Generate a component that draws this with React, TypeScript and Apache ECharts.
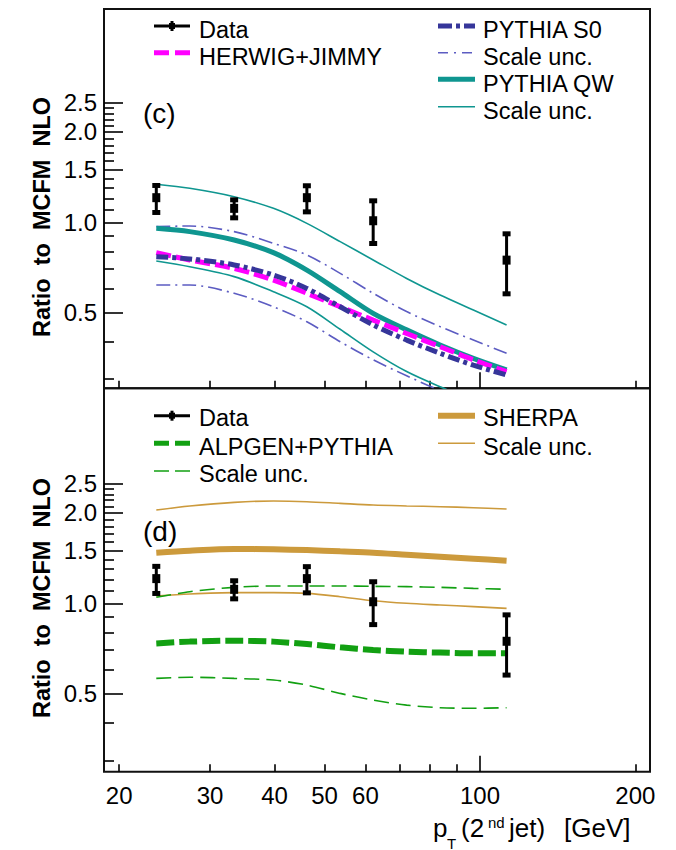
import React, { useEffect, useRef } from 'react';
import * as echarts from 'echarts';

const FONT = "'Liberation Sans', Arial, Helvetica, sans-serif";

// ---- data ----
const ptBins = [23.6, 33.4, 46.2, 62.1, 112.6];
const dataRatio = [1.208, 1.113, 1.208, 1.012, 0.748];
const dataLow = [1.066, 1.023, 1.071, 0.84, 0.571];
const dataHigh = [1.342, 1.202, 1.339, 1.193, 0.926];

const ptCurve = [23.6, 27.4, 33.4, 39.8, 46.2, 53.6, 62.1, 72.1, 83.7, 97.1, 112.6];

// panel (c)
const qwUpper = [1.339, 1.298, 1.217, 1.113, 0.992, 0.862, 0.749, 0.65, 0.572, 0.51, 0.455];
const qwCentral = [0.955, 0.931, 0.873, 0.792, 0.693, 0.587, 0.497, 0.438, 0.39, 0.352, 0.322];
const qwLower = [0.743, 0.711, 0.659, 0.587, 0.523, 0.44, 0.37, 0.318, 0.283, 0.255, null];
const s0Upper = [0.967, 0.972, 0.931, 0.851, 0.778, 0.676, 0.58, 0.504, 0.449, 0.405, 0.366];
const s0Central = [0.768, 0.755, 0.721, 0.667, 0.602, 0.523, 0.455, 0.405, 0.366, 0.334, 0.31];
const s0Lower = [0.618, 0.618, 0.58, 0.523, 0.466, 0.4, 0.348, 0.308, 0.275, 0.25, null];
const herwig = [0.792, 0.749, 0.702, 0.642, 0.58, 0.523, 0.472, 0.426, 0.385, 0.348, 0.318];

// panel (d)
const sherpaUpper = [2.042, 2.106, 2.165, 2.187, 2.176, 2.148, 2.121, 2.106, 2.094, 2.078, 2.057];
const sherpaCentral = [1.473, 1.496, 1.515, 1.511, 1.503, 1.488, 1.473, 1.45, 1.428, 1.407, 1.386];
const sherpaLower = [1.057, 1.074, 1.085, 1.085, 1.079, 1.052, 1.02, 1.0, 0.987, 0.975, 0.962];
const alpgenUpper = [1.047, 1.093, 1.13, 1.142, 1.142, 1.142, 1.139, 1.136, 1.13, 1.121, 1.113];
const alpgenCentral = [0.736, 0.746, 0.751, 0.746, 0.732, 0.714, 0.7, 0.691, 0.686, 0.682, 0.682];
const alpgenLower = [0.563, 0.568, 0.563, 0.556, 0.535, 0.502, 0.477, 0.459, 0.45, 0.448, 0.45];

// ticks
const yMajorTicks = [0.5, 1.0, 1.5, 2.0, 2.5];
const yMinorTicks = [0.3, 0.4, 0.6, 0.7, 0.8, 0.9, 1.1, 1.2, 1.3, 1.4, 1.6, 1.7, 1.8, 1.9, 2.1, 2.2, 2.3, 2.4];
const xLabelTicks = [20, 30, 40, 50, 60, 100, 200];
const xMajorTicks = [100];
const xMinorTicks = [20, 30, 40, 50, 60, 70, 80, 90, 200];

const X_MIN = 18.69;
const X_MAX = 213.5;
const Y_RANGE = [
  [0.2797, 5.14],
  [0.2758, 5.18],
];

const C_TEAL = '#0f9690';
const C_S0 = '#36369a';
const C_S0_THIN = '#5c5cc2';
const C_MAG = '#ff00ff';
const C_SHERPA = '#cc9a3c';
const C_GREEN = '#12a012';

function zip(xs: number[], ys: (number | null)[]) {
  const out: number[][] = [];
  xs.forEach((x, i) => {
    const y = ys[i];
    if (y != null) out.push([x, y]);
  });
  return out;
}

export default function App() {
  const ref = useRef<HTMLDivElement>(null);
  useEffect(() => {
    const chart = echarts.init(ref.current!, null, { renderer: 'svg' });

    const grids = [
      { left: 104, top: 9, width: 546, height: 379.3 },
      { left: 104, top: 388.3, width: 546, height: 383.4 },
    ].map((g) => ({ ...g, show: true, borderColor: '#111', borderWidth: 2, backgroundColor: 'transparent' }));

    const tickStyle = { color: '#000', width: 1.6 };

    const xAxes: any[] = [];
    const yAxes: any[] = [];
    [0, 1].forEach((gi) => {
      xAxes.push({
        type: 'log', gridIndex: gi, min: X_MIN, max: X_MAX, position: 'bottom',
        axisLine: { show: false }, splitLine: { show: false }, minorTick: { show: false },
        axisTick: { show: true, inside: true, length: 16, lineStyle: tickStyle, customValues: xMajorTicks },
        axisLabel: gi === 1
          ? { show: true, customValues: xLabelTicks, margin: 12, fontSize: 24, color: '#000', fontFamily: FONT,
              formatter: (v: number) => String(Math.round(v)) }
          : { show: false },
      });
      xAxes.push({
        type: 'log', gridIndex: gi, min: X_MIN, max: X_MAX, position: 'bottom',
        axisLine: { show: false }, splitLine: { show: false }, minorTick: { show: false },
        axisTick: { show: true, inside: true, length: 7.5, lineStyle: tickStyle, customValues: xMinorTicks },
        axisLabel: { show: false },
      });
      yAxes.push({
        type: 'log', gridIndex: gi, min: Y_RANGE[gi][0], max: Y_RANGE[gi][1], position: 'left',
        axisLine: { show: false }, splitLine: { show: false }, minorTick: { show: false },
        axisTick: { show: true, inside: true, length: 19, lineStyle: tickStyle, customValues: yMajorTicks },
        axisLabel: { show: true, customValues: yMajorTicks, margin: 7, fontSize: 24, color: '#000', fontFamily: FONT,
          formatter: (v: number) => v.toFixed(1) },
      });
      yAxes.push({
        type: 'log', gridIndex: gi, min: Y_RANGE[gi][0], max: Y_RANGE[gi][1], position: 'left',
        axisLine: { show: false }, splitLine: { show: false }, minorTick: { show: false },
        axisTick: { show: true, inside: true, length: 10, lineStyle: tickStyle, customValues: yMinorTicks },
        axisLabel: { show: false },
      });
    });

    const curve = (gi: number, ys: (number | null)[], color: string, width: number, dash: any, z = 2) => ({
      type: 'line', xAxisIndex: gi * 2, yAxisIndex: gi * 2, data: zip(ptCurve, ys),
      smooth: 0.3, showSymbol: false, symbol: 'none', silent: true, clip: true, z,
      lineStyle: { color, width, type: dash, cap: 'butt' },
    });

    const errorSeries = (gi: number) => ({
      type: 'custom', xAxisIndex: gi * 2, yAxisIndex: gi * 2, z: 10, silent: true,
      encode: { x: 0, y: 1 },
      data: ptBins.map((x, i) => [x, dataRatio[i], dataLow[i], dataHigh[i]]),
      renderItem: (_p: any, api: any) => {
        const x = api.value(0);
        const c = api.coord([x, api.value(1)]);
        const l = api.coord([x, api.value(2)]);
        const h = api.coord([x, api.value(3)]);
        const st = { fill: '#000' };
        return {
          type: 'group',
          children: [
            { type: 'line', shape: { x1: c[0], y1: l[1], x2: c[0], y2: h[1] }, style: { stroke: '#000', lineWidth: 3 } },
            { type: 'rect', shape: { x: c[0] - 4, y: h[1] - 1, width: 8, height: 5 }, style: st },
            { type: 'rect', shape: { x: c[0] - 4, y: l[1] - 4, width: 8, height: 5 }, style: st },
            { type: 'rect', shape: { x: c[0] - 4, y: c[1] - 4.5, width: 8, height: 9 }, style: st },
          ],
        };
      },
    });

    const series: any[] = [
      curve(0, qwUpper, C_TEAL, 1.6, 'solid'),
      curve(0, qwLower, C_TEAL, 1.6, 'solid'),
      curve(0, s0Upper, C_S0_THIN, 1.6, [14, 5, 2, 5]),
      curve(0, s0Lower, C_S0_THIN, 1.6, [14, 5, 2, 5]),
      curve(0, qwCentral, C_TEAL, 5, 'solid', 3),
      curve(0, herwig, C_MAG, 5, [15, 5], 4),
      curve(0, s0Central, C_S0, 5, [12, 4, 4, 4], 5),
      errorSeries(0),
      curve(1, sherpaUpper, C_SHERPA, 1.6, 'solid'),
      curve(1, sherpaLower, C_SHERPA, 1.6, 'solid'),
      curve(1, alpgenUpper, C_GREEN, 1.6, [15, 7]),
      curve(1, alpgenLower, C_GREEN, 1.6, [15, 7]),
      curve(1, sherpaCentral, C_SHERPA, 6, 'solid', 3),
      curve(1, alpgenCentral, C_GREEN, 6, [18, 5], 4),
      errorSeries(1),
    ];

    const txt = (text: string, x: number, y: number, size = 23.5, extra: any = {}) => ({
      type: 'text', x, y, silent: true, ...extra,
      style: {
        text, fill: '#000', fontSize: size, fontFamily: FONT,
        align: 'left', verticalAlign: 'middle', textAlign: 'left', textVerticalAlign: 'middle',
        ...(extra.style || {}),
      },
    });
    const mark = (x1: number, x2: number, y: number, color: string, width: number, dash?: number[]) => ({
      type: 'line', silent: true,
      shape: { x1, y1: y, x2, y2: y },
      style: { stroke: color, lineWidth: width, lineDash: dash, lineCap: 'butt' },
    });
    const dataMark = (y: number) => [
      mark(154, 190, y, '#000', 3),
      { type: 'line', silent: true, shape: { x1: 172, y1: y - 5, x2: 172, y2: y + 5 }, style: { stroke: '#000', lineWidth: 3 } },
      { type: 'rect', silent: true, shape: { x: 169, y: y - 3, width: 6, height: 6 }, style: { fill: '#000' } },
    ];

    const LX1 = 154, LX2 = 190, LT = 199;
    const RX1 = 438, RX2 = 475, RT = 483;

    const graphic: any[] = [
      // panel (c) legend
      ...dataMark(26),
      txt('Data', LT, 29.5),
      mark(LX1, LX2, 52.7, C_MAG, 5, [15, 6]),
      txt('HERWIG+JIMMY', LT, 56.7),
      mark(RX1, RX2, 26, C_S0, 5, [14, 4, 4, 4]),
      txt('PYTHIA S0', RT, 29.5),
      mark(RX1, RX2, 52.7, C_S0_THIN, 1.6, [10, 6, 2, 6]),
      txt('Scale unc.', RT, 56.7),
      mark(RX1, RX2, 79.3, C_TEAL, 5),
      txt('PYTHIA QW', RT, 84),
      mark(RX1, RX2, 106.7, C_TEAL, 1.6),
      txt('Scale unc.', RT, 110.7),
      txt('(c)', 143, 113, 28),
      // panel (d) legend
      ...dataMark(415.7),
      txt('Data', LT, 418.3),
      mark(LX1, LX2, 443.3, C_GREEN, 5, [15, 6]),
      txt('ALPGEN+PYTHIA', LT, 446.7),
      mark(LX1, LX2, 471, C_GREEN, 1.6, [15, 6]),
      txt('Scale unc.', LT, 474),
      mark(RX1, RX2, 415.7, C_SHERPA, 6),
      txt('SHERPA', RT, 418.3),
      mark(RX1, RX2, 443.3, C_SHERPA, 1.6),
      txt('Scale unc.', RT, 446.7),
      txt('(d)', 143, 531.7, 28),
      // y titles
      txt('Ratio  to  MCFM  NLO', 42, 217, 23.5, { rotation: Math.PI / 2, style: { align: 'center', textAlign: 'center', fontWeight: 'bold' } }),
      txt('Ratio  to  MCFM  NLO', 42, 598, 23.5, { rotation: Math.PI / 2, style: { align: 'center', textAlign: 'center', fontWeight: 'bold' } }),
      // x title
      txt('p', 433, 828, 26),
      txt('T', 447, 843, 15),
      txt('(2', 461, 828, 26),
      txt('nd', 488, 822, 15),
      txt('jet)', 509, 828, 26),
      txt('[GeV]', 564, 828, 26),
    ];

    chart.setOption({
      animation: false,
      backgroundColor: '#fff',
      textStyle: { fontFamily: FONT },
      grid: grids,
      xAxis: xAxes,
      yAxis: yAxes,
      series,
      graphic,
    });
    return () => chart.dispose();
  }, []);
  return <div ref={ref} style={{ position: 'fixed', left: 0, top: 0, width: 676, height: 850, background: '#fff' }} />;
}
